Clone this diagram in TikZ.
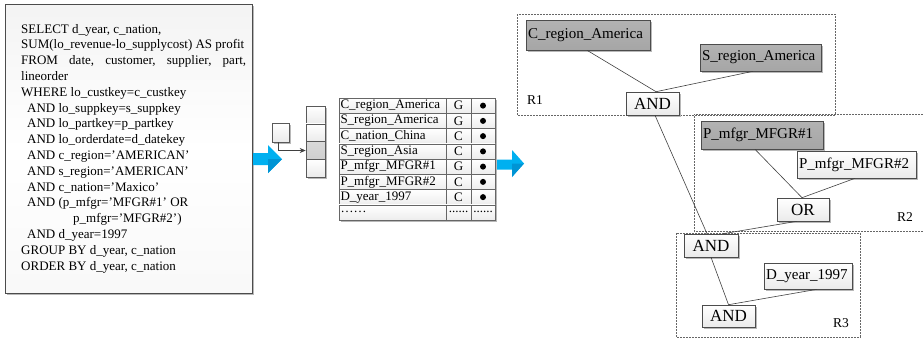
\documentclass[tikz,border=0pt]{standalone}
\usepackage{fontspec}
\setmainfont{Liberation Serif}
\usetikzlibrary{shadows,arrows.meta}

\definecolor{arrowblue}{RGB}{0,176,240}
\definecolor{arrowdark}{RGB}{0,148,212}

\tikzset{
  edge/.style={draw=black!75, line width=0.6pt},
  boxshadow/.style={general shadow={fill=black!28, shadow xshift=1.6pt, shadow yshift=-1.6pt}},
  whitefill/.style={top color=white, bottom color=gray!16},
  grayfill/.style={top color=gray!60, bottom color=gray!70},
  leaf/.style={draw=black!70, line width=0.6pt, text width=#1, inner xsep=2pt, inner ysep=0pt,
    align=left, font=\fontsize{15}{17}\selectfont, boxshadow},
  logic/.style={draw=black!70, line width=0.6pt, minimum width=53pt, minimum height=23pt,
    inner sep=0pt, font=\fontsize{17}{19}\selectfont, whitefill, boxshadow},
  region/.style={draw=black!60, line width=0.6pt, dash pattern=on 2pt off 1pt},
  rlabel/.style={inner sep=0pt, font=\fontsize{13.5}{15}\selectfont},
  sqlline/.style={anchor=base west, inner sep=0pt, font=\fontsize{13}{15}\selectfont},
  tcell/.style={draw=black!60, line width=0.5pt, minimum height=15.25pt, inner sep=0pt,
    top color=white, bottom color=gray!14, font=\fontsize{13}{15}\selectfont},
  slot/.style={draw=black!65, line width=0.6pt, minimum width=19pt, minimum height=17.75pt,
    inner sep=0pt, boxshadow},
  flagdot/.style={circle, fill=black, inner sep=0pt, minimum size=6pt}
}

\begin{document}
\begin{tikzpicture}[x=1pt,y=-1pt]
\useasboundingbox (0,0) rectangle (923,338);

% ---------- SQL query ----------
\node[draw=black!70, line width=0.6pt, minimum width=247pt, minimum height=289pt,
      top color=gray!9, bottom color=gray!5, middle color=white, boxshadow] (sql) at (128.5,148.5) {};
\node[sqlline] (q1)  at (21,33)    {SELECT d\_year, c\_nation,};
\node[sqlline] (q2)  at (21,48.8)  {SUM(lo\_revenue-lo\_supplycost) AS profit};
\node[sqlline] (q3)  at (21,64.6)  {\makebox[225pt][l]{FROM\hfill date,\hfill customer,\hfill supplier,\hfill part,}};
\node[sqlline] (q4)  at (21,80.4)  {lineorder};
\node[sqlline] (q5)  at (21,96.2)  {WHERE lo\_custkey=c\_custkey};
\node[sqlline] (q6)  at (27,112)   {AND lo\_suppkey=s\_suppkey};
\node[sqlline] (q7)  at (27,127.8) {AND lo\_partkey=p\_partkey};
\node[sqlline] (q8)  at (27,143.6) {AND lo\_orderdate=d\_datekey};
\node[sqlline] (q9)  at (27,159.4) {AND c\_region='AMERICAN'};
\node[sqlline] (q10) at (27,175.2) {AND s\_region='AMERICAN'};
\node[sqlline] (q11) at (27,191)   {AND c\_nation='Maxico'};
\node[sqlline] (q12) at (27,206.8) {AND (p\_mfgr='MFGR\#1' OR};
\node[sqlline] (q13) at (73,222.6) {p\_mfgr='MFGR\#2')};
\node[sqlline] (q14) at (27,238.4) {AND d\_year=1997};
\node[sqlline] (q15) at (21,254.2) {GROUP BY d\_year, c\_nation};
\node[sqlline] (q16) at (21,270)   {ORDER BY d\_year, c\_nation};

% ---------- first blue arrow ----------
\fill[arrowblue] (253,153) -- (268,153) -- (268,145) -- (282,159) -- (268,173) -- (268,165) -- (253,165) -- cycle;
\fill[arrowdark] (268,159) -- (282,159) -- (268,173) -- cycle;

% ---------- hash slot lookup ----------
\node[slot, whitefill, minimum width=17pt, minimum height=19pt] (key) at (280.5,132.5) {};
\node[slot, whitefill] (c1) at (315.5,115)   {};
\node[slot, whitefill] (c2) at (315.5,132.75) {};
\node[slot, top color=gray!30, bottom color=gray!38] (c3) at (315.5,150.5) {};
\node[slot, whitefill] (c4) at (315.5,168.25) {};
\draw[edge, -{Stealth[length=6pt,width=5pt]}] ([xshift=-2.5pt]key.south) |- (c3.west);

% ---------- predicate table ----------
\fill[black!28] (341,100) rectangle (497,222);
\foreach \n/\t [count=\i] in {C\_region\_America/G, S\_region\_America/G, C\_nation\_China/C,
    S\_region\_Asia/C, P\_mfgr\_MFGR\#1/G, P\_mfgr\_MFGR\#2/C, D\_year\_1997/C}{
  \pgfmathsetmacro{\yy}{98+15.25*(\i-0.5)}
  \node[tcell, text width=104pt, inner xsep=1.5pt, align=left] (r\i a) at (392.5,\yy) {\n};
  \node[tcell, minimum width=25pt] (r\i b) at (458.5,\yy) {\t};
  \node[tcell, minimum width=24pt] (r\i c) at (483,\yy) {};
  \node[flagdot] (d\i) at (r\i c.center) {};
}
\node[tcell, text width=104pt, inner xsep=1.5pt, align=left] (r8a) at (392.5,212.375) {\ldots\ldots};
\node[tcell, minimum width=25pt] (r8b) at (458.5,212.375) {......};
\node[tcell, minimum width=24pt] (r8c) at (483,212.375) {......};

% ---------- second blue arrow ----------
\fill[arrowblue] (497,159.5) -- (512,159.5) -- (512,150) -- (524,163.5) -- (512,177) -- (512,169.5) -- (497,169.5) -- cycle;
\fill[arrowdark] (512,163.5) -- (524,163.5) -- (512,177) -- cycle;

% ---------- predicate tree regions ----------
\draw[region] (517,14) rectangle (835,115);
\draw[region] (923,114) -- (694,114) -- (694,231) -- (923,231);
\draw[region] (676,233) rectangle (860,337);
\node[rlabel] (lr1) at (535,100) {R1};
\node[rlabel] (lr2) at (905,217) {R2};
\node[rlabel] (lr3) at (841,323) {R3};

% ---------- predicate tree nodes ----------
\node[leaf=120pt, grayfill, minimum height=30pt] (creg) at (588,35) {C\_region\_America};
\node[leaf=117pt, grayfill, minimum height=27pt] (sreg) at (760.5,57.5) {S\_region\_America};
\node[logic] (and1) at (652.5,103.5) {AND};
\node[leaf=118pt, grayfill, minimum height=28pt] (pm1) at (762,135) {P\_mfgr\_MFGR\#1};
\node[leaf=115pt, whitefill, minimum height=27pt] (pm2) at (856.5,164.5) {P\_mfgr\_MFGR\#2};
\node[logic, minimum width=52pt] (or) at (803,209.5) {OR};
\node[logic, minimum width=54pt] (and2) at (711,245.5) {AND};
\node[leaf=84pt, whitefill, minimum height=26pt] (dyr) at (808,276) {D\_year\_1997};
\node[logic, minimum height=22pt] (and3) at (728.5,316) {AND};

% ---------- tree edges ----------
\draw[edge] ([xshift=-1pt]creg.south) -- ([xshift=3.5pt]and1.north);
\draw[edge] ([xshift=-7.5pt]sreg.south) -- ([xshift=3.5pt]and1.north);
\draw[edge] ([xshift=-7pt]pm1.south) -- ([xshift=-1pt]or.north);
\draw[edge] ([xshift=-1.5pt]pm2.south) -- ([xshift=-1pt]or.north);
\draw[edge] ([xshift=2.5pt]and1.south) -- ([xshift=-4pt]and2.north);
\draw[edge] ([xshift=-6pt]or.south) -- ([xshift=12pt]and2.north);
\draw[edge] (and2.south) -- (and3.north);
\draw[edge] ([xshift=9pt]dyr.south) -- (and3.north);
\end{tikzpicture}
\end{document}
